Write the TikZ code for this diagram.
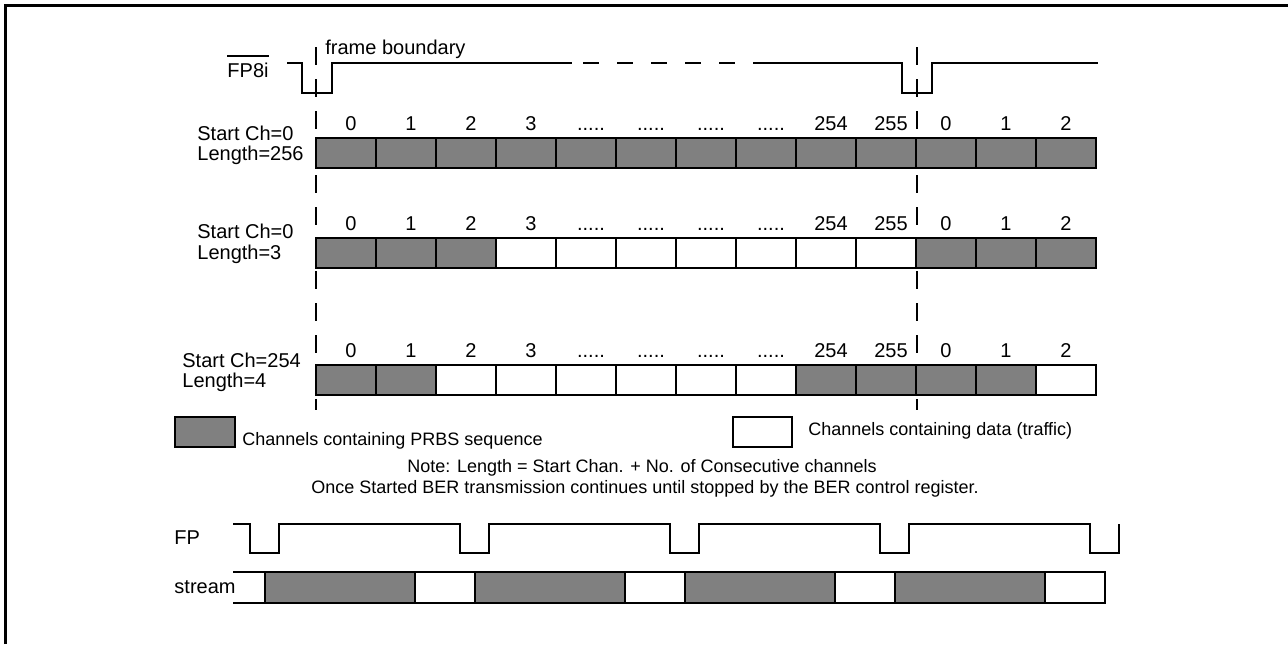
\documentclass[tikz,border=0pt]{standalone}
\usepackage{fontspec}
\setmainfont{Liberation Sans}
\usepackage{xcolor}
\usepackage{tikz}
\usetikzlibrary{positioning,calc}
\definecolor{prbsgray}{RGB}{128,128,128}
\newcommand\chdots{.....}

\begin{document}
\begin{tikzpicture}[
  x=0.5pt,y=-0.5pt,
  txt/.style={font=\fontsize{10}{12}\selectfont,inner sep=0pt},
  small/.style={font=\fontsize{9}{11}\selectfont,inner sep=0pt},
  cell/.style={draw,line width=1pt,minimum width=30pt,minimum height=15pt,inner sep=0pt,outer sep=0pt},
  prbs/.style={cell,fill=prbsgray},
  traffic/.style={cell,fill=white},
  wave/.style={line width=1pt},
  bound/.style={line width=1pt,dash pattern=on 9pt off 7pt}
]
\useasboundingbox (0,0) rectangle (1288,644);
\draw[line width=1.5pt] (5.5,644) -- (5.5,5.5) -- (1288,5.5);

% frame boundaries
\coordinate (fb1a) at (316,47); \coordinate (fb1b) at (316,410);
\coordinate (fb2a) at (917,47); \coordinate (fb2b) at (917,410);
\draw[bound] (fb1a) -- (fb1b);
\draw[bound] (fb2a) -- (fb2b);

% FP8i
\node[txt,anchor=base] (fp8i) at (248,77) {FP8i};
\draw[line width=0.8pt] ([yshift=3pt]fp8i.north west) -- ([yshift=3pt]fp8i.north east);
\node[txt,anchor=base west] (fbnd) at (325,54) {frame boundary};
\draw[wave] (287,63) -- (302,63) -- (302,93) -- (332,93) -- (332,63) -- (572,63);
\draw[wave,dash pattern=on 8pt off 9pt] (583,63) -- (755,63);
\draw[wave] (755,63) -- (902,63) -- (902,93) -- (932,93) -- (932,63) -- (1098,63);

% channel rows
\foreach \s [count=\i from 0] in {prbs,prbs,prbs,prbs,prbs,prbs,prbs,prbs,prbs,prbs,prbs,prbs,prbs}
  \node[\s] (ra\i) at (346+60*\i,153) {};
\foreach \s [count=\i from 0] in {prbs,prbs,prbs,traffic,traffic,traffic,traffic,traffic,traffic,traffic,prbs,prbs,prbs}
  \node[\s] (rb\i) at (346+60*\i,253) {};
\foreach \s [count=\i from 0] in {prbs,prbs,traffic,traffic,traffic,traffic,traffic,traffic,prbs,prbs,prbs,prbs,traffic}
  \node[\s] (rc\i) at (346+60*\i,380) {};
\foreach \t [count=\i from 0] in {0,1,2,3,\chdots,\chdots,\chdots,\chdots,254,255,0,1,2} {
  \pgfmathsetmacro\dx{\i<10 ? 2.5 : 0}
  \node[txt,above=3.5pt of ra\i,xshift=\dx pt] (na\i) {\t};
  \node[txt,above=3.5pt of rb\i,xshift=\dx pt] (nb\i) {\t};
  \node[txt,above=3.5pt of rc\i,xshift=\dx pt] (nc\i) {\t};
}
\node[txt,anchor=base west] (sa) at (197,140) {Start Ch=0};
\node[txt,anchor=base west] (la) at (197,160) {Length=256};
\node[txt,anchor=base west] (sb) at (197,238) {Start Ch=0};
\node[txt,anchor=base west] (lb) at (197,259) {Length=3};
\node[txt,anchor=base west] (sc) at (182,367) {Start Ch=254};
\node[txt,anchor=base west] (lc) at (182,387) {Length=4};

% key and notes
\node[prbs] (keyp) at (205,432) {};
\node[small,anchor=base west] (keypt) at (242,445) {Channels containing PRBS sequence};
\node[traffic,minimum width=29.5pt] (keyd) at (762.5,432) {};
\node[small,anchor=base west] (keydt) at (808,435) {Channels containing data (traffic)};
\node[small,anchor=base] (note) at (642,472) {Note: Length = Start Chan. + No. of Consecutive channels};
\node[small,anchor=base] (once) at (645,493) {Once Started BER transmission continues until stopped by the BER control register.};

% FP and stream
\node[txt,anchor=base west] (fp) at (174,544) {FP};
\draw[wave] (233,524) foreach \k in {0,...,4} { -- (250+210*\k,524) -- (250+210*\k,553) -- (279+210*\k,553) -- (279+210*\k,524) };
\node[txt,anchor=base east] (strm) at (236,593) {stream};
\draw[wave] (233,572) -- (1105,572) -- (1105,603) -- (233,603);
\foreach \k in {0,...,3}
  \node[prbs,minimum width=75pt,minimum height=15.5pt] (sp\k) at (340+210*\k,587.5) {};
\end{tikzpicture}
\end{document}
